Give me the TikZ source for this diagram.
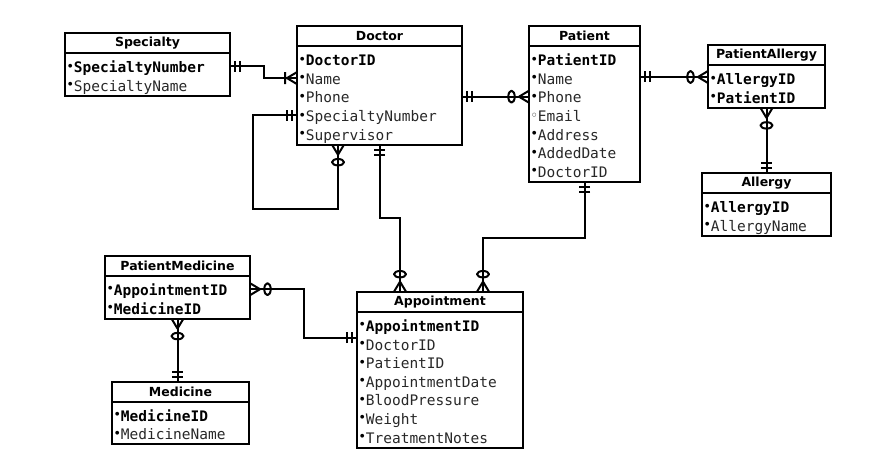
\documentclass[tikz,border=0pt]{standalone}
\usepackage{fontspec}
\setmainfont{DejaVu Sans}
\setmonofont{DejaVu Sans Mono}
\usetikzlibrary{positioning}

\definecolor{fieldgray}{RGB}{40,40,40}

\newcommand{\rowfont}{\ttfamily\fontsize{14.5}{18.6}\selectfont\lineskiplimit=-20pt\relax}
\newcommand{\rowstrut}{\rule[-3.5pt]{0pt}{22.3pt}}
\newcommand{\dotb}{\raisebox{5.5pt}{\rmfamily\fontsize{5}{5}\selectfont ●}\kern1.5pt}
\newcommand{\keyf}[1]{\rowstrut\dotb\textbf{#1}}
\newcommand{\fld}[1]{\rowstrut\dotb{\color{fieldgray}#1}}
\newcommand{\optf}[1]{\rowstrut\raisebox{5.5pt}{\rmfamily\fontsize{5}{5}\selectfont ○}\kern1.5pt{\color{fieldgray}#1}}

\pgfarrowsdeclare{one}{one}
{\pgfarrowsleftextend{-12pt}\pgfarrowsrightextend{0pt}}
{
  \pgfsetdash{}{0pt}
  \pgfpathmoveto{\pgfpoint{-5pt}{-5.5pt}}\pgfpathlineto{\pgfpoint{-5pt}{5.5pt}}
  \pgfpathmoveto{\pgfpoint{-10pt}{-5.5pt}}\pgfpathlineto{\pgfpoint{-10pt}{5.5pt}}
  \pgfusepathqstroke
}
\pgfarrowsdeclare{zmany}{zmany}
{\pgfarrowsleftextend{-21pt}\pgfarrowsrightextend{0pt}}
{
  \pgfsetdash{}{0pt}\pgfsetroundjoin
  \pgfpathmoveto{\pgfpoint{0pt}{6pt}}\pgfpathlineto{\pgfpoint{-10pt}{0pt}}\pgfpathlineto{\pgfpoint{0pt}{-6pt}}
  \pgfpathellipse{\pgfpoint{-17.5pt}{0pt}}{\pgfpoint{3.2pt}{0pt}}{\pgfpoint{0pt}{6pt}}
  \pgfusepathqstroke
}
\pgfarrowsdeclare{omany}{omany}
{\pgfarrowsleftextend{-13pt}\pgfarrowsrightextend{0pt}}
{
  \pgfsetdash{}{0pt}\pgfsetroundjoin
  \pgfpathmoveto{\pgfpoint{0pt}{6pt}}\pgfpathlineto{\pgfpoint{-10pt}{0pt}}\pgfpathlineto{\pgfpoint{0pt}{-6pt}}
  \pgfpathmoveto{\pgfpoint{-12pt}{-6pt}}\pgfpathlineto{\pgfpoint{-12pt}{6pt}}
  \pgfusepathqstroke
}

\begin{document}
\begin{tikzpicture}[line width=2pt,
  tabhead/.style={draw,outer sep=0pt,text width=#1,align=center,minimum height=20pt,inner xsep=3pt,inner ysep=0pt,font=\fontsize{12.5}{14}\selectfont\bfseries},
  tabbody/.style={draw,outer sep=0pt,text width=#1,align=left,inner xsep=3pt,inner ysep=1pt,font=\rowfont}]
\useasboundingbox (0,0) rectangle (888pt,470pt);

\node[tabhead=159pt,anchor=north west] (doctor-h) at (297pt,444pt) {Doctor};
\node[tabbody=159pt,below=0pt of doctor-h] (doctor) {\keyf{DoctorID}\\ \fld{Name}\\ \fld{Phone}\\ \fld{SpecialtyNumber}\\ \fld{Supervisor}};

\node[tabhead=159pt,below left=7pt and 67pt of doctor-h.north west] (specialty-h) {Specialty};
\node[tabbody=159pt,below=0pt of specialty-h] (specialty) {\keyf{SpecialtyNumber}\\ \fld{SpecialtyName}};

\node[tabhead=105pt,below right=0pt and 67pt of doctor-h.north east] (patient-h) {Patient};
\node[tabbody=105pt,below=0pt of patient-h] (patient) {\keyf{PatientID}\\ \fld{Name}\\ \fld{Phone}\\ \optf{Email}\\ \fld{Address}\\ \fld{AddedDate}\\ \fld{DoctorID}};

\node[tabhead=111pt,below right=19pt and 68pt of patient-h.north east] (pallergy-h) {PatientAllergy};
\node[tabbody=111pt,below=0pt of pallergy-h] (pallergy) {\keyf{AllergyID}\\ \keyf{PatientID}};

\node[tabhead=123pt,below=65pt of pallergy] (allergy-h) {Allergy};
\node[tabbody=123pt,below=0pt of allergy-h] (allergy) {\keyf{AllergyID}\\ \fld{AllergyName}};

\node[tabhead=160pt,below right=147pt and 60pt of doctor.south west] (appt-h) {Appointment};
\node[tabbody=160pt,below=0pt of appt-h] (appt) {\keyf{AppointmentID}\\ \fld{DoctorID}\\ \fld{PatientID}\\ \fld{AppointmentDate}\\ \fld{BloodPressure}\\ \fld{Weight}\\ \fld{TreatmentNotes}};

\node[tabhead=139pt,below left=111pt and 47pt of doctor.south west] (pmed-h) {PatientMedicine};
\node[tabbody=139pt,below=0pt of pmed-h] (pmed) {\keyf{AppointmentID}\\ \keyf{MedicineID}};

\node[tabhead=131pt,below right=63pt and 7pt of pmed.south west] (medicine-h) {Medicine};
\node[tabbody=131pt,below=0pt of medicine-h] (medicine) {\keyf{MedicineID}\\ \fld{MedicineName}};

\draw[one-omany] ([yshift=-33.5pt]specialty-h.north east) -- ++(34pt,0) |- ([yshift=-52.1pt]doctor-h.north west);
\draw[one-zmany] ([yshift=-89.3pt]doctor-h.north west) -| ([xshift=-44pt,yshift=-64pt]doctor.south west) -| ([xshift=41pt]doctor.south west);
\draw[one-zmany] ([yshift=-70.7pt]doctor-h.north east) -- ([yshift=-70.7pt]patient-h.north west);
\draw[one-zmany] ([yshift=-51pt]patient-h.north east) -- ([yshift=-32pt]pallergy-h.north west);
\draw[zmany-one] (pallergy.south) -- (allergy-h.north);
\draw[one-zmany] (doctor.south) -- ++(0,-73pt) -| ([xshift=43pt]appt-h.north west);
\draw[one-zmany] (patient.south) -- ++(0,-56pt) -| ([xshift=126pt]appt-h.north west);
\draw[zmany-one] ([yshift=-33.5pt]pmed-h.north east) -- ++(54pt,0) |- ([yshift=-46pt]appt-h.north west);
\draw[zmany-one] (pmed.south) -- (pmed.south |- medicine-h.north);
\end{tikzpicture}
\end{document}
